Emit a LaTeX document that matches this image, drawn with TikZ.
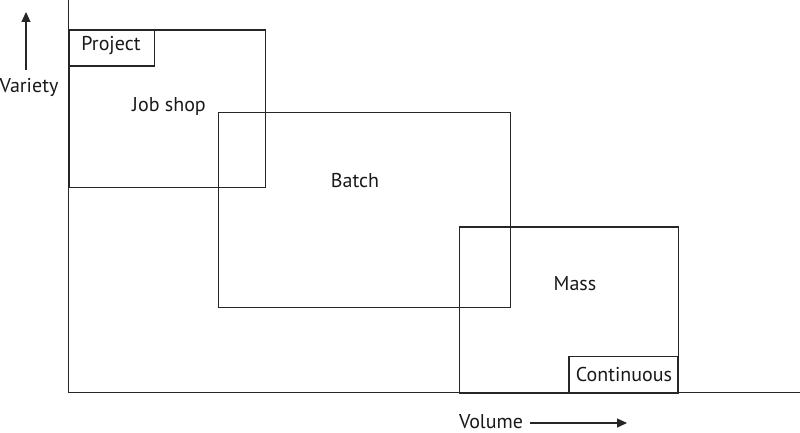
\documentclass[tikz,border=0pt]{standalone}
\usepackage{fontspec}
\setmainfont{PT Sans}
\usetikzlibrary{arrows.meta}
\begin{document}
\begin{tikzpicture}[x=1pt,y=-1pt,
  ln/.style={line width=1.2pt,draw=black!85},
  lbl/.style={font=\fontsize{20}{24}\selectfont,text=black!90,inner sep=0pt},
  ax/.style={ln,-{Triangle[length=10pt,width=9pt]}}]
\useasboundingbox (0,0) rectangle (800,433);
% axes
\coordinate (o) at (68.5,392.3);
\coordinate (ytop) at (68.5,0);
\coordinate (xend) at (800,392.3);
\draw[ln] (ytop) -- (o) -- (xend);
% boxes
\node[ln,draw,minimum width=196pt,minimum height=157pt,anchor=north west,inner sep=0pt] (jobshop) at (68.5,29.5) {};
\node[ln,draw,minimum width=85pt,minimum height=36pt,anchor=north west,inner sep=0pt] (project) at (68.5,29.5) {};
\node[ln,draw,minimum width=292.5pt,minimum height=195pt,anchor=north west,inner sep=0pt] (batch) at (217.5,111.7) {};
\node[ln,draw,minimum width=218.5pt,minimum height=166pt,anchor=north west,inner sep=0pt] (mass) at (459,226.3) {};
\node[ln,draw,minimum width=109pt,minimum height=36.6pt,anchor=north west,inner sep=0pt] (continuous) at (568.3,355.7) {};
% labels
\node[lbl] (tproject) at (111,46) {Project};
\node[lbl] (tjob) at (169,107) {Job shop};
\node[lbl] (tbatch) at (355,181) {Batch};
\node[lbl] (tmass) at (575,284) {Mass};
\node[lbl] (tcont) at (624,374) {Continuous};
\node[lbl] (tvar) at (29,87) {Variety};
\node[lbl] (tvol) at (491,422) {Volume};
% axis arrows
\coordinate (va) at (26,70);
\coordinate (vb) at (26,12);
\draw[ax] (va) -- (vb);
\coordinate (ha) at (530,423);
\coordinate (hb) at (627,423);
\draw[ax] (ha) -- (hb);
\end{tikzpicture}
\end{document}
